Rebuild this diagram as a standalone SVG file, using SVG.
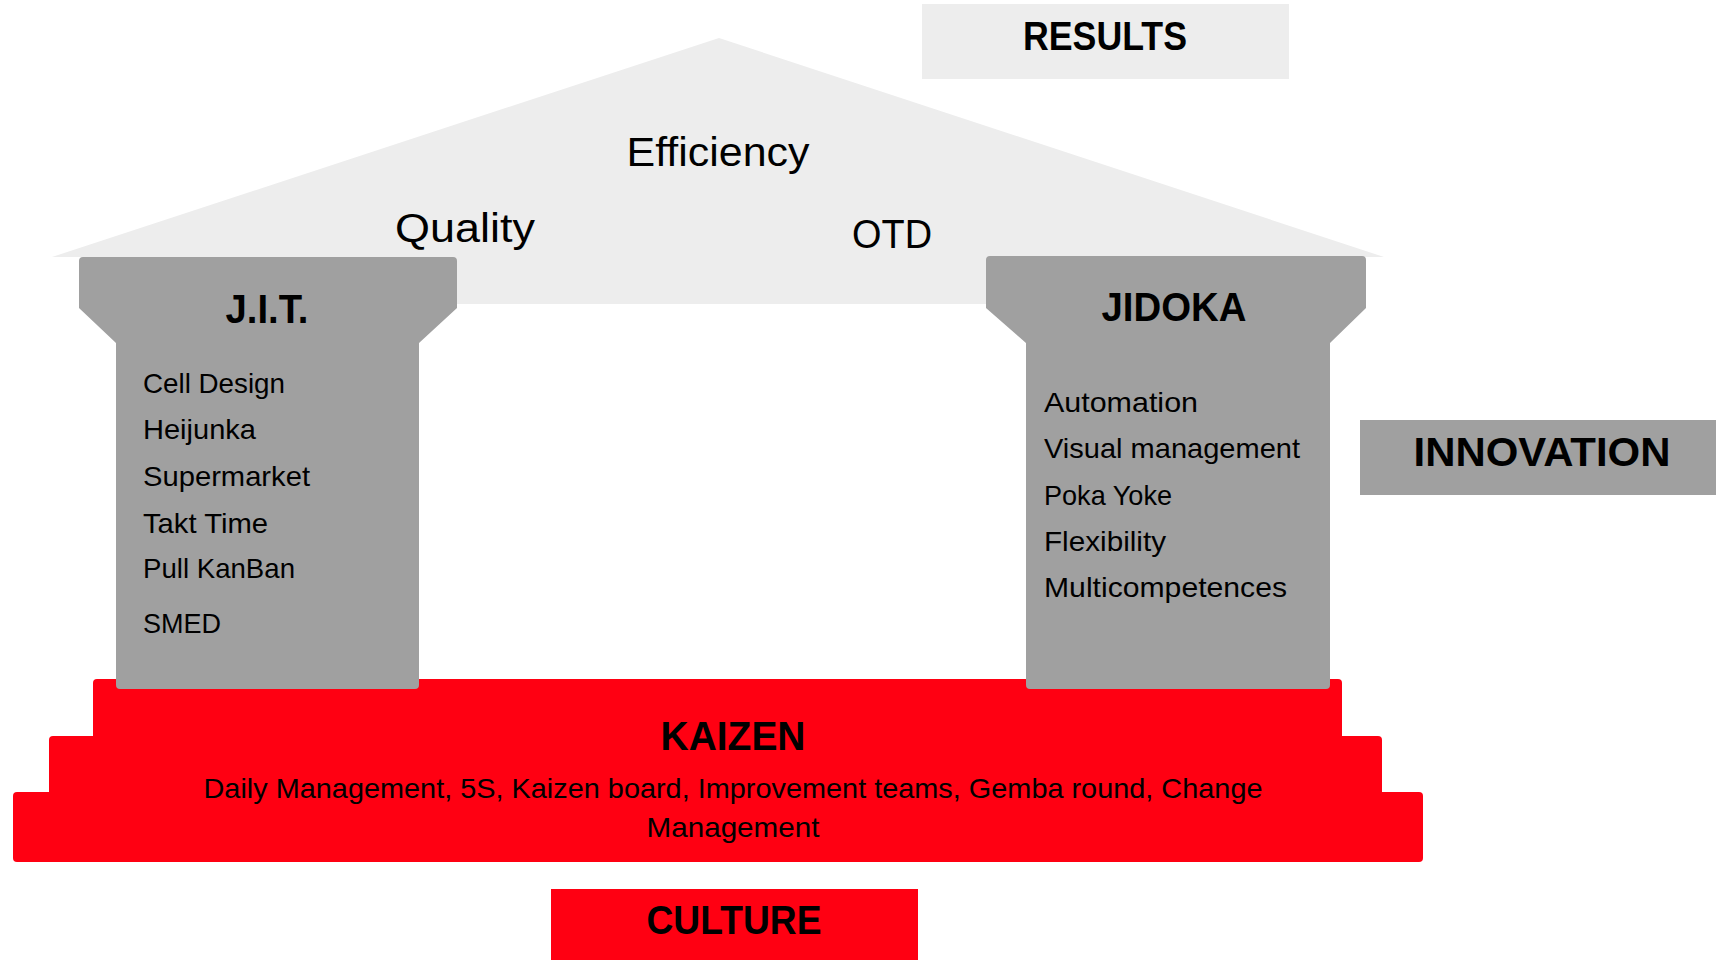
<svg xmlns="http://www.w3.org/2000/svg" width="1716" height="960" viewBox="0 0 1716 960">
<style>
text{font-family:"Liberation Sans",Arial,sans-serif;fill:#000}
.b{font-weight:bold;font-size:40px}
.r{font-size:40px}
.i{font-size:28.5px}
.roof{fill:#EDEDED}
.gray{fill:#A0A0A0}
.red{fill:#FF0012}
</style>
<rect width="1716" height="960" fill="#fff"/>
<g id="roof">
<polygon class="roof" points="52,257 719,38 1384,257 1000,257 1000,304 440,304 440,257"/>
<text class="r" x="718" y="166" text-anchor="middle" textLength="183" lengthAdjust="spacingAndGlyphs">Efficiency</text>
<text class="r" x="465" y="242" text-anchor="middle" textLength="140" lengthAdjust="spacingAndGlyphs">Quality</text>
<text class="r" x="892" y="248" text-anchor="middle" textLength="80" lengthAdjust="spacingAndGlyphs">OTD</text>
</g>
<g id="results">
<rect class="roof" x="922" y="4" width="367" height="75"/>
<text class="b" x="1105" y="50" text-anchor="middle" textLength="164" lengthAdjust="spacingAndGlyphs">RESULTS</text>
</g>
<g id="kaizen">
<rect class="red" x="13" y="792" width="1410" height="70" rx="4"/>
<rect class="red" x="49" y="736" width="1333" height="100" rx="4"/>
<rect class="red" x="93" y="679" width="1249" height="120" rx="4"/>
<text class="b" x="733" y="750" text-anchor="middle" textLength="145" lengthAdjust="spacingAndGlyphs">KAIZEN</text>
<text class="i" x="733" y="798" text-anchor="middle" textLength="1059" lengthAdjust="spacingAndGlyphs">Daily Management, 5S, Kaizen board, Improvement teams, Gemba round, Change</text>
<text class="i" x="733" y="837" text-anchor="middle" textLength="173" lengthAdjust="spacingAndGlyphs">Management</text>
</g>
<g id="jit">
<path class="gray" d="M83,257 H453 Q457,257 457,261 V308 L419,343 V685 Q419,689 415,689 H120 Q116,689 116,685 V343 L79,308 V261 Q79,257 83,257 Z"/>
<text class="b" x="267" y="323" text-anchor="middle" textLength="83" lengthAdjust="spacingAndGlyphs">J.I.T.</text>
<text class="i" x="143" y="393" textLength="142" lengthAdjust="spacingAndGlyphs">Cell Design</text>
<text class="i" x="143" y="439" textLength="113" lengthAdjust="spacingAndGlyphs">Heijunka</text>
<text class="i" x="143" y="486" textLength="167" lengthAdjust="spacingAndGlyphs">Supermarket</text>
<text class="i" x="143" y="533" textLength="125" lengthAdjust="spacingAndGlyphs">Takt Time</text>
<text class="i" x="143" y="578" textLength="152" lengthAdjust="spacingAndGlyphs">Pull KanBan</text>
<text class="i" x="143" y="633" textLength="78" lengthAdjust="spacingAndGlyphs">SMED</text>
</g>
<g id="jidoka">
<path class="gray" d="M990,256 H1362 Q1366,256 1366,260 V308 L1330,343 V685 Q1330,689 1326,689 H1030 Q1026,689 1026,685 V343 L986,308 V260 Q986,256 990,256 Z"/>
<text class="b" x="1174" y="321" text-anchor="middle" textLength="145" lengthAdjust="spacingAndGlyphs">JIDOKA</text>
<text class="i" x="1044" y="412" textLength="154" lengthAdjust="spacingAndGlyphs">Automation</text>
<text class="i" x="1044" y="458" textLength="256" lengthAdjust="spacingAndGlyphs">Visual management</text>
<text class="i" x="1044" y="505" textLength="128" lengthAdjust="spacingAndGlyphs">Poka Yoke</text>
<text class="i" x="1044" y="551" textLength="122" lengthAdjust="spacingAndGlyphs">Flexibility</text>
<text class="i" x="1044" y="597" textLength="243" lengthAdjust="spacingAndGlyphs">Multicompetences</text>
</g>
<g id="innovation">
<rect class="gray" x="1360" y="420" width="356" height="75"/>
<text class="b" x="1542" y="466" text-anchor="middle" textLength="257" lengthAdjust="spacingAndGlyphs">INNOVATION</text>
</g>
<g id="culture">
<rect class="red" x="551" y="889" width="367" height="71"/>
<text class="b" x="734" y="934" text-anchor="middle" textLength="175" lengthAdjust="spacingAndGlyphs">CULTURE</text>
</g>
<g id="connectors"></g>
</svg>
